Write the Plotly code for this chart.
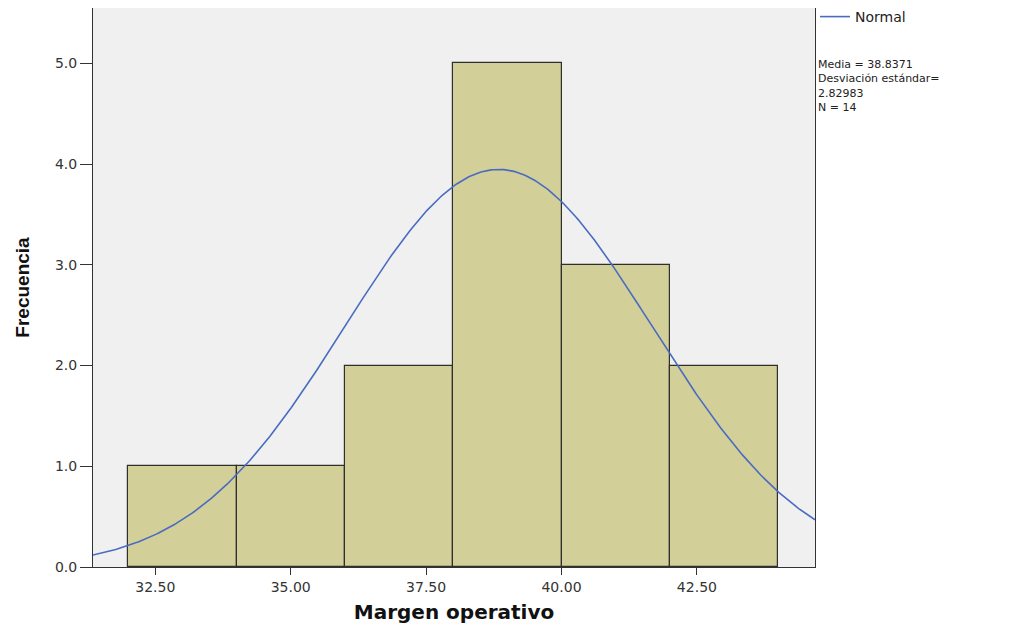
import numpy as np
import plotly.graph_objects as go

# Data
bin_starts = [32, 34, 36, 38, 40, 42]
bin_width = 2
frequencies = [1, 1, 2, 5, 3, 2]
x_tick_vals = [32.5, 35.0, 37.5, 40.0, 42.5]
x_tick_text = ["32.50", "35.00", "37.50", "40.00", "42.50"]
y_tick_vals = [0, 1, 2, 3, 4, 5]
y_tick_text = ["0.0", "1.0", "2.0", "3.0", "4.0", "5.0"]
mean = 38.8371
std = 2.82983
n = 14
stats_lines = [f"Media = {mean}", "Desviación estándar=", f"{std}", f"N = {n}"]

x_range = [31.35, 44.68]
y_range = [0, 5.55]

centers = [s + bin_width / 2 for s in bin_starts]

xs = np.linspace(x_range[0], x_range[1], 400)
ys = n * bin_width * np.exp(-0.5 * ((xs - mean) / std) ** 2) / (std * np.sqrt(2 * np.pi))

W, H = 1011, 620
L, R, T, B = 85, 204, 0, 61
plot_h = H - T - B

fig = go.Figure()
fig.add_trace(go.Bar(
    x=centers, y=frequencies, width=[bin_width] * len(centers),
    marker=dict(color="#D3CF99", line=dict(color="#2f2f2f", width=1.2)),
    showlegend=False, hoverinfo="skip",
))
fig.add_trace(go.Scatter(
    x=xs, y=ys, mode="lines", name="Normal",
    line=dict(color="#4A6CC0", width=1.6),
))

font_family = "DejaVu Sans, Verdana, sans-serif"

fig.update_layout(
    width=W, height=H,
    margin=dict(l=L, r=R, t=T, b=B, autoexpand=False),
    paper_bgcolor="white",
    plot_bgcolor="#F0F0F0",
    bargap=0,
    font=dict(family=font_family, size=13, color="#222222"),
    showlegend=True,
    legend=dict(
        x=1.0, y=1 - 9 / plot_h, xanchor="left", yanchor="middle",
        xref="paper", yref="paper",
        bgcolor="rgba(0,0,0,0)", borderwidth=0,
        font=dict(size=14, family=font_family, color="#222222"),
        itemwidth=30,
    ),
    xaxis=dict(
        range=x_range, tickvals=x_tick_vals, ticktext=x_tick_text,
        ticks="outside", ticklen=7, tickcolor="#333333",
        showgrid=False, zeroline=False,
        showline=True, linecolor="#333333", linewidth=1, mirror=True,
        tickfont=dict(size=14, color="#333333"),
        title=dict(text="<b>Margen operativo</b>",
                   font=dict(size=20, color="#111111", family=font_family), standoff=11),
    ),
    yaxis=dict(
        range=y_range, tickvals=y_tick_vals, ticktext=y_tick_text,
        ticks="outside", ticklen=12, tickcolor="#333333",
        showgrid=False, zeroline=False,
        showline=True, linecolor="#333333", linewidth=1, mirror=True,
        tickfont=dict(size=14, color="#333333"),
        title=dict(text="<b>Frecuencia</b>",
                   font=dict(size=19, color="#111111", family="Liberation Sans, Arial, sans-serif"),
                   standoff=20),
    ),
)

fig.add_annotation(
    x=1.0, y=1 - 48 / plot_h, xref="paper", yref="paper",
    xanchor="left", yanchor="top", align="left", xshift=1,
    text="<br>".join(stats_lines), showarrow=False,
    font=dict(size=11, family=font_family, color="#222222"),
)

fig.write_html("out.html")
